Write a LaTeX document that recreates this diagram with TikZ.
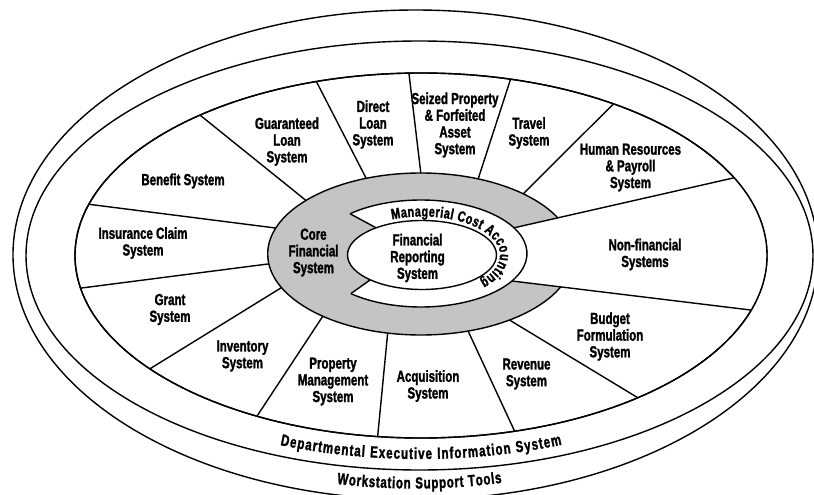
\documentclass[tikz,border=0pt]{standalone}
\usepackage{fontspec}
\setmainfont{Liberation Sans}[FakeStretch=0.72, BoldFeatures={FakeBold=1.6}]
\usetikzlibrary{decorations.text}
\definecolor{ringgray}{RGB}{196,196,196}
\newcommand\lblfont{\fontsize{16}{16.7}\selectfont\bfseries}
\newcommand\curvefont{\fontsize{16}{16}\selectfont\bfseries}
\newcommand\mcafont{\fontsize{15}{15}\selectfont\bfseries}
\tikzset{
  outl/.style={line width=1.4pt, line join=round},
  lbl/.style={font=\lblfont, align=center, inner sep=0pt},
}
\begin{document}
\begin{tikzpicture}[x=1pt,y=-1pt]
\useasboundingbox (0,0) rectangle (814,495);
\clip (0,0) rectangle (814,495);
% outer ellipses
\draw[outl] (415.5,254.8) ellipse [x radius=402.5, y radius=244.8];
\draw[outl] (419.5,255.5) ellipse [x radius=393.5, y radius=214.5];
\draw[outl] (421,255.5) ellipse [x radius=346, y radius=182.5];
% gray core ring
\filldraw[outl, fill=ringgray] (420.8,254) ellipse [x radius=153.1, y radius=81];
% key coordinates
\path (421,253.5) ++(228:106 and 53.5) coordinate (t1);
\path (421,253.5) ++(131.4:106 and 53.5) coordinate (t2);
\path (422,255) ++(232:74.5 and 34.5) coordinate (f1);
\path (422,255) ++(134:74.5 and 34.5) coordinate (f2);
\path (421,253.5) ++(331.3:106 and 53.5) coordinate (m1);
\path (421,253.5) ++(30.9:106 and 53.5) coordinate (m2);
\path (421,255.5) ++(334.8:346 and 182.5) coordinate (w6);
\path (421,255.5) ++(17.4:346 and 182.5) coordinate (w7);
% white managerial ring (C shape)
\fill[white] (t1) arc[start angle=228, end angle=491.4, x radius=106, y radius=53.5]
  -- (f2) arc[start angle=134, end angle=232, x radius=74.5, y radius=34.5] -- cycle;
% non-financial sector covers the ring end
\fill[white] (m1) -- (w6) arc[start angle=334.8, end angle=377.4, x radius=346, y radius=182.5]
  -- (m2) arc[start angle=30.9, end angle=-28.7, x radius=106, y radius=53.5] -- cycle;
% outlines
\draw[outl] (421,255.5) ellipse [x radius=346, y radius=182.5];
\draw[outl] (t1) arc[start angle=228, end angle=491.4, x radius=106, y radius=53.5];
\draw[outl] (t1) -- (f1);
\draw[outl] (t2) -- (f2);
\filldraw[outl, fill=white] (422,255) ellipse [x radius=74.5, y radius=34.5];
% spokes
\foreach \g/\w [count=\i] in {221.4/230.3, 249.1/252.4, 270/268, 292/285, 312/303.8,
    54.6/51.2, 72/74.3, 102.5/97.2, 129.8/118.3, 155.5/141.6, 173/169.7, 198.7/196.3}{
  \path (420.8,254) ++(\g:153.1 and 81) coordinate (gs\i);
  \path (421,255.5) ++(\w:346 and 182.5) coordinate (ws\i);
  \draw[outl] (gs\i) -- (ws\i);
}
\draw[outl] (m1) -- (w6);
\draw[outl] (m2) -- (w7);
% labels
\node[lbl] (benefit) at (183,181) {Benefit System};
\node[lbl] (guaranteed) at (287,141.5) {Guaranteed\\Loan\\System};
\node[lbl] (direct) at (373,124.5) {Direct\\Loan\\System};
\node[lbl] (seized) at (455,125) {Seized Property\\\& Forfeited\\Asset\\System};
\node[lbl] (travel) at (529,133) {Travel\\System};
\node[lbl] (hr) at (630.5,167.5) {Human Resources\\\& Payroll\\System};
\node[lbl] (nonfin) at (645,254.5) {Non-financial\\Systems};
\node[lbl] (budget) at (610,336.5) {Budget\\Formulation\\System};
\node[lbl] (revenue) at (526.5,374) {Revenue\\System};
\node[lbl] (acq) at (428,386) {Acquisition\\System};
\node[lbl] (prop) at (333,381.5) {Property\\Management\\System};
\node[lbl] (inv) at (242.5,356) {Inventory\\System};
\node[lbl] (grant) at (170,309.5) {Grant\\System};
\node[lbl] (ins) at (143,243) {Insurance Claim\\System};
\node[lbl] (core) at (313.5,252.5) {Core\\Financial\\System};
\node[lbl] (frs) at (417.5,258) {Financial\\Reporting\\System};
% curved texts
\path (422,255) ++(247.4:78 and 38.5) coordinate (mcaS);
\path[decorate, decoration={text along path, text align={fit to path},
  text={|\mcafont|Managerial Cost Accounting}}]
  (mcaS) arc[start angle=247.4, end angle=402, x radius=78, y radius=38.5];
\path (420,255.5) ++(111.3:385 and 203.5) coordinate (depS);
\path[decorate, decoration={text along path, text align={fit to path},
  text={|\curvefont|Departmental Executive Information System}}]
  (depS) arc[start angle=111.3, end angle=68.4, x radius=385, y radius=203.5];
\path (415,254) ++(101.4:395 and 234.5) coordinate (wsS);
\path[decorate, decoration={text along path, text align={fit to path},
  text={|\curvefont|Workstation Support Tools}}]
  (wsS) arc[start angle=101.4, end angle=77.3, x radius=395, y radius=234.5];
\end{tikzpicture}
\end{document}
